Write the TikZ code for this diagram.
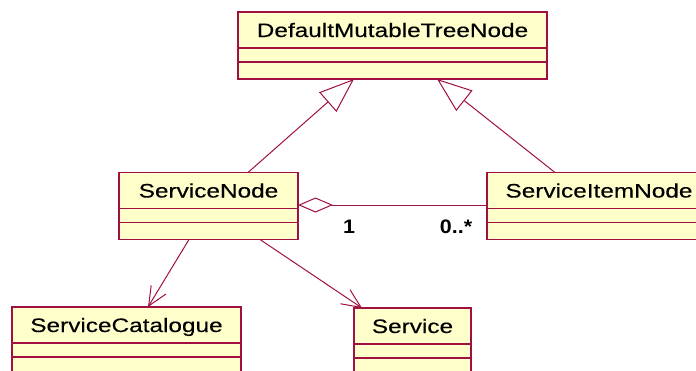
\documentclass[tikz,border=0pt]{standalone}
\usepackage{fontspec}
\setmainfont{Liberation Sans}
\newfontfamily\classfont[FakeBold=0.2]{Liberation Sans}
\usetikzlibrary{arrows.meta}
\definecolor{umlline}{RGB}{160,16,64}
\definecolor{umlfill}{RGB}{255,255,204}
% class names are set slightly wide
\newcommand{\wide}[1]{\scalebox{1.25}[1]{#1}}

\tikzset{
  compart/.style={draw=umlline, fill=umlfill, line width=1.3pt, inner sep=0pt,
    outer sep=0pt, minimum width=#1, text height=14pt, text depth=0pt,
    font=\classfont\fontsize{19.5}{20}\selectfont},
  namepart/.style={compart=#1, minimum height=36},
  attrpart/.style={compart=#1, minimum height=12, anchor=north},
  opspart/.style={compart=#1, minimum height=24, anchor=north},
  gen/.style={draw=umlline, line width=1pt,
    -{Triangle[length=35pt,width=26pt,fill=white]}},
  agg/.style={draw=umlline, line width=1pt,
    {Diamond[length=35pt,width=15pt,fill=white]}-},
  dep/.style={draw=umlline, line width=1pt,
    -{Straight Barb[length=19pt,width=17pt]}},
  mult/.style={inner sep=0pt, text height=14pt, text depth=0pt,
    font=\bfseries\fontsize{19.5}{20}\selectfont}
}

\begin{document}
\begin{tikzpicture}[x=1pt,y=-1pt]
\useasboundingbox (0,0) rectangle (696,370);
\clip (0,0) rectangle (696,370);

% DefaultMutableTreeNode
\node[namepart=309] (dmt) at (392.5,30) {\wide{DefaultMutableTreeNode}};
\node[attrpart=309] (dmt-a) at (dmt.south) {};
\node[opspart=309, minimum height=17] (dmt-o) at (dmt-a.south) {};

% ServiceNode
\node[namepart=179] (sn) at (208.5,190.5) {\wide{ServiceNode}};
\node[attrpart=179] (sn-a) at (sn.south) {};
\node[opspart=179, minimum height=17] (sn-o) at (sn-a.south) {};

% ServiceItemNode
\node[namepart=224] (sin) at (599,190.5) {\wide{ServiceItemNode}};
\node[attrpart=224] (sin-a) at (sin.south) {};
\node[opspart=224, minimum height=17] (sin-o) at (sin-a.south) {};

% ServiceCatalogue
\node[namepart=229] (sc) at (126.5,325) {\wide{ServiceCatalogue}};
\node[attrpart=229, minimum height=13] (sc-a) at (sc.south) {};
\node[opspart=229] (sc-o) at (sc-a.south) {};

% Service
\node[namepart=117] (sv) at (412.5,326) {\wide{Service}};
\node[attrpart=117] (sv-a) at (sv.south) {};
\node[opspart=117] (sv-o) at (sv-a.south) {};

% generalizations
\draw[gen] ([xshift=39.5pt]sn.north) -- ([xshift=-38.5pt]dmt-o.south);
\draw[gen] ([xshift=-44pt]sin.north) -- ([xshift=44.5pt]dmt-o.south);

% aggregation with multiplicities
\draw[agg] ([yshift=-14.5pt]sn.east) -- ([yshift=-14.5pt]sin.west);
\node[mult] (m-one) at (349,226) {\scalebox{1.1}[1]{1}};
\node[mult] (m-many) at (456,226) {\scalebox{1.1}[1]{0..*}};

% navigable associations
\draw[dep] ([xshift=-19.5pt]sn-o.south) -- ([xshift=21.5pt]sc.north);
\draw[dep] ([xshift=51.5pt]sn-o.south) -- ([xshift=-50.5pt]sv.north);
\end{tikzpicture}
\end{document}
